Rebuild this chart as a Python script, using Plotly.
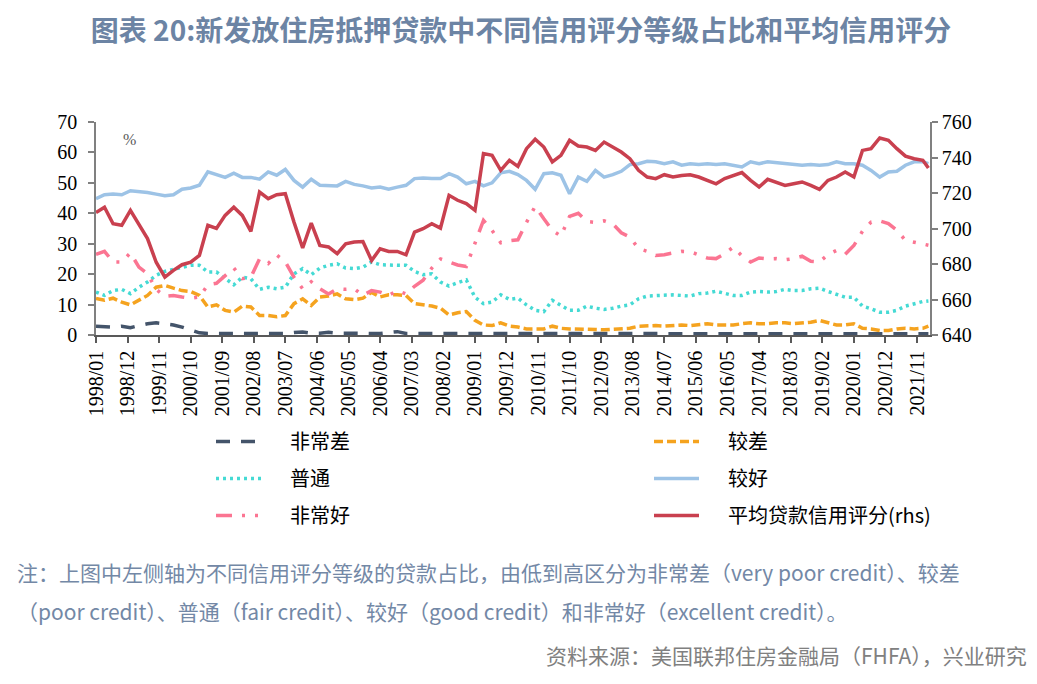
import plotly.graph_objects as go
import pandas as pd

# quarterly observation dates (1998/01 ... 2022/01) plus the last month 2022/03
dates = pd.date_range("1998-01-01", periods=97, freq="3MS").strftime("%Y-%m-%d").tolist() + ["2022-03-01"]

very_poor = [2.9, 2.8, 2.6, 2.9, 2.4, 3.1, 3.7, 4.0, 3.7, 3.3, 2.6, 1.5, 0.7, 0.5, 0.5, 0.5, 0.5,
             0.6, 0.5, 0.5, 0.5, 0.5, 0.5, 0.8, 1.0, 0.6, 0.6, 0.9, 0.6, 0.6, 0.5, 0.6, 0.5,
             0.5, 0.8, 1.1, 0.5, 0.5, 0.5, 0.5, 0.4, 0.4, 0.4, 0.4, 0.4, 0.4, 0.4, 0.4, 0.4,
             0.4, 0.4, 0.4, 0.4, 0.4, 0.4, 0.4, 0.4, 0.4, 0.4, 0.4, 0.4, 0.4, 0.4, 0.4, 0.4,
             0.4, 0.4, 0.4, 0.4, 0.4, 0.4, 0.4, 0.4, 0.4, 0.4, 0.4, 0.4, 0.4, 0.4, 0.4, 0.4,
             0.4, 0.4, 0.4, 0.4, 0.4, 0.4, 0.4, 0.4, 0.4, 0.4, 0.4, 0.4, 0.4, 0.4, 0.4, 0.4,
             0.4]

poor = [12.0, 11.4, 12.1, 10.8, 9.9, 11.4, 13.0, 15.7, 16.3, 15.4, 14.6, 14.3, 13.0, 9.2, 9.9, 8.1, 7.5,
        9.5, 9.2, 6.4, 6.4, 6.0, 6.4, 10.3, 11.9, 9.7, 12.5, 12.8, 13.5, 11.9, 11.6, 12.1, 14.0,
        12.5, 13.2, 13.2, 13.0, 10.3, 9.9, 9.5, 8.8, 6.6, 7.3, 7.7, 4.8, 3.3, 3.1, 4.0, 2.9,
        2.6, 2.0, 2.0, 2.0, 2.9, 2.2, 2.0, 2.0, 2.0, 1.8, 1.7, 1.8, 2.0, 2.2, 2.9, 3.1,
        3.1, 2.9, 3.1, 3.3, 3.1, 3.3, 3.7, 3.3, 3.3, 3.3, 3.7, 4.0, 3.7, 3.7, 4.0, 4.0,
        3.7, 4.0, 4.2, 4.8, 4.2, 3.3, 3.3, 3.7, 2.2, 2.0, 1.5, 1.5, 2.0, 2.2, 2.0, 2.2,
        2.9]

fair = [14.1, 13.0, 14.6, 15.0, 13.6, 15.7, 17.4, 19.6, 20.9, 21.6, 22.3, 22.9, 22.9, 20.7, 20.7, 18.5, 16.5,
        19.0, 18.5, 15.0, 15.7, 15.2, 15.7, 20.1, 21.8, 19.8, 22.0, 22.9, 23.4, 22.0, 21.8, 22.3, 24.0,
        23.1, 22.9, 22.9, 22.9, 20.9, 19.8, 20.1, 17.4, 16.1, 17.2, 18.1, 12.4, 10.3, 10.8, 13.2, 11.7,
        12.1, 9.9, 8.1, 7.7, 11.4, 9.7, 8.1, 8.1, 9.5, 8.8, 8.4, 8.8, 9.5, 9.9, 11.9, 12.8,
        13.0, 13.0, 13.2, 13.0, 12.8, 13.6, 13.8, 14.4, 13.6, 13.0, 13.0, 14.1, 14.3, 14.1, 14.3, 15.0,
        14.6, 14.6, 15.2, 15.4, 14.3, 13.2, 12.4, 12.4, 9.5, 8.6, 7.5, 7.5, 8.1, 9.5, 10.3, 11.0,
        11.2]

good = [44.8, 46.1, 46.3, 46.1, 47.4, 47.2, 46.8, 46.3, 45.8, 46.1, 47.9, 48.3, 49.2, 53.6, 52.7, 51.8, 53.2,
        51.8, 51.8, 51.2, 53.6, 52.5, 54.4, 50.8, 48.6, 51.2, 49.2, 49.2, 49.0, 50.5, 49.5, 49.0, 48.3,
        48.6, 47.9, 48.6, 49.2, 51.4, 51.6, 51.4, 51.4, 53.0, 51.9, 49.7, 50.5, 49.0, 50.0, 53.3, 53.8,
        52.7, 50.8, 47.9, 53.0, 53.3, 52.5, 46.4, 51.9, 50.5, 54.1, 51.9, 52.7, 53.8, 56.0, 56.3, 57.1,
        56.9, 56.3, 56.9, 55.8, 56.3, 56.0, 56.3, 56.0, 56.3, 55.8, 55.2, 56.9, 56.3, 56.9, 56.6, 56.3,
        56.1, 55.8, 56.0, 55.8, 56.0, 56.9, 56.3, 56.3, 55.8, 54.1, 51.9, 53.6, 53.8, 55.8, 56.9, 56.9,
        56.3]

excellent = [26.5, 27.5, 24.0, 24.0, 27.0, 22.3, 20.1, 15.0, 12.7, 13.0, 12.5, 12.1, 12.5, 16.5, 17.0, 19.6, 22.0,
             18.5, 19.0, 25.0, 23.5, 26.3, 24.0, 19.0, 15.2, 17.5, 15.2, 13.5, 15.2, 15.0, 15.2, 13.0, 14.6,
             14.1, 13.0, 14.6, 13.5, 16.0, 18.0, 22.0, 25.0, 24.0, 23.0, 22.5, 30.0, 37.7, 34.4, 30.3, 31.0,
             31.3, 37.0, 42.3, 38.2, 34.4, 32.5, 39.0, 40.0, 37.3, 37.0, 37.5, 36.5, 33.6, 32.2, 28.4, 27.5,
             26.1, 26.4, 27.0, 27.5, 27.4, 26.4, 25.3, 25.1, 26.7, 28.9, 26.0, 24.0, 25.3, 25.0, 25.1, 24.7,
             25.1, 25.9, 24.2, 24.0, 26.4, 27.8, 26.5, 29.4, 34.1, 37.1, 37.5, 36.6, 34.4, 31.1, 30.5, 29.8,
             29.5]

avg_score = [709.0, 712.0, 702.7, 701.8, 710.2, 701.8, 694.3, 681.0, 672.6, 676.4, 679.6, 681.0, 684.8, 701.8, 700.0, 707.4, 712.0,
             707.4, 698.4, 720.5, 716.8, 719.0, 719.6, 703.6, 689.0, 703.0, 690.5, 689.6, 685.8, 691.4, 692.4, 692.7, 682.0,
             688.6, 687.1, 687.1, 685.2, 698.0, 699.9, 702.7, 700.2, 718.7, 715.9, 714.0, 710.2, 742.2, 741.2, 732.8, 738.4,
             735.0, 745.0, 750.3, 745.9, 737.5, 741.2, 749.7, 746.5, 745.9, 744.0, 748.7, 745.9, 743.1, 739.3, 732.8, 729.0,
             728.1, 730.3, 729.0, 729.9, 730.3, 729.0, 727.1, 725.2, 728.1, 729.6, 731.5, 727.1, 723.4, 727.7, 725.8, 724.3,
             725.2, 726.2, 724.3, 722.0, 727.1, 729.0, 731.8, 729.0, 744.0, 745.0, 751.0, 749.7, 745.0, 740.8, 739.3, 738.4,
             734.1]

tick_labels = ["1998/01", "1998/12", "1999/11", "2000/10", "2001/09", "2002/08", "2003/07",
               "2004/06", "2005/05", "2006/04", "2007/03", "2008/02", "2009/01", "2009/12",
               "2010/11", "2011/10", "2012/09", "2013/08", "2014/07", "2015/06", "2016/05",
               "2017/04", "2018/03", "2019/02", "2020/01", "2020/12", "2021/11"]
tick_vals = [t.replace("/", "-") + "-01" for t in tick_labels]

names = ["非常差", "较差", "普通", "较好", "非常好", "平均贷款信用评分(rhs)"]
GAP = "\u2003\u2009"  # visual gap between legend sample and text

fig = go.Figure()
specs = [
    (names[0], very_poor, dict(color="#44546A", width=3.5, dash="14px,11px"), "y", "legend"),
    (names[1], poor, dict(color="#F5A31F", width=3.5, dash="9px,4px"), "y", "legend2"),
    (names[2], fair, dict(color="#45DAD4", width=3.5, dash="3px,4px"), "y", "legend"),
    (names[3], good, dict(color="#9DC3E6", width=3.5), "y", "legend2"),
    (names[4], excellent, dict(color="#FB7592", width=3.5, dash="16px,10px,3px,10px,3px,10px"), "y", "legend"),
    (names[5], avg_score, dict(color="#C9404F", width=3.5), "y2", "legend2"),
]
for i, (nm, vals, ln, ax, lg) in enumerate(specs):
    fig.add_trace(go.Scatter(x=dates, y=vals, name=GAP + nm, mode="lines", line=ln,
                             yaxis=ax, legend=lg, legendgroup="g%d" % i))

tickfont = dict(family="Liberation Serif", size=20, color="#000000")
legfont = dict(family="Noto Sans CJK SC", size=20, color="#000000")

# page body has an 8px offset; figure is sized/margined so the plot area lands at x 96-930, y 122-335
W, H = 1029, 676
fig.update_layout(
    width=W, height=H,
    margin=dict(l=88, r=107, t=114, b=349),
    paper_bgcolor="white", plot_bgcolor="white",
    title=dict(text="图表 20:新发放住房抵押贷款中不同信用评分等级占比和平均信用评分",
               x=513 / W, xref="container", xanchor="center",
               y=1 - 23 / H, yref="container", yanchor="middle",
               font=dict(family="Noto Sans CJK SC", size=28, color="#6C84A4", weight="bold")),
    xaxis=dict(type="date", range=["1998-01-01", "2022-03-18"], tickvals=tick_vals, ticktext=tick_labels,
               tickangle=-90, ticks="outside", ticklen=6, tickcolor="#595959", tickwidth=1.5,
               showline=True, linecolor="#595959", linewidth=1.5, showgrid=False, zeroline=False,
               tickfont=tickfont),
    yaxis=dict(range=[0, 70], dtick=10, ticks="outside", ticklen=6, tickcolor="#808080", tickwidth=1.5,
               showline=True, linecolor="#808080", linewidth=1.5, showgrid=False, zeroline=False,
               tickfont=tickfont, ticklabelstandoff=7),
    yaxis2=dict(range=[640, 760], dtick=20, overlaying="y", side="right", ticks="outside", ticklen=6,
                tickcolor="#808080", tickwidth=1.5, showline=True, linecolor="#808080", linewidth=1.5,
                showgrid=False, zeroline=False, tickfont=tickfont),
    legend=dict(x=(211 - 96) / 834, y=(335 - 422) / 213, xanchor="left", yanchor="top",
                orientation="v", font=legfont, tracegroupgap=8, itemwidth=45,
                bgcolor="rgba(0,0,0,0)", traceorder="grouped"),
    legend2=dict(x=(649 - 96) / 834, y=(335 - 422) / 213, xanchor="left", yanchor="top",
                 orientation="v", font=legfont, tracegroupgap=8, itemwidth=45,
                 bgcolor="rgba(0,0,0,0)", traceorder="grouped"),
)

fig.add_annotation(text="%", xref="paper", yref="paper", x=(121 - 96) / 834, y=(335 - 129) / 213,
                   showarrow=False, font=dict(family="Liberation Serif", size=16, color="#595959"))

note_color = "#7388A6"
fig.add_annotation(text="注：上图中左侧轴为不同信用评分等级的贷款占比，由低到高区分为非常差（very poor credit）、较差",
                   xref="paper", yref="paper", x=(15 - 96) / 834, y=(335 - 572) / 213,
                   xanchor="left", yanchor="middle", showarrow=False,
                   font=dict(family="Noto Sans CJK SC", size=21, color=note_color))
fig.add_annotation(text="（poor credit）、普通（fair credit）、较好（good credit）和非常好（excellent credit）。",
                   xref="paper", yref="paper", x=(15 - 96) / 834, y=(335 - 611) / 213,
                   xanchor="left", yanchor="middle", showarrow=False,
                   font=dict(family="Noto Sans CJK SC", size=21, color=note_color))
fig.add_annotation(text="资料来源：美国联邦住房金融局（FHFA），兴业研究",
                   xref="paper", yref="paper", x=(1029 - 96) / 834, y=(335 - 655) / 213,
                   xanchor="right", yanchor="middle", showarrow=False,
                   font=dict(family="Noto Sans CJK SC", size=21, color="#808080"))

fig.write_html("out.html")
